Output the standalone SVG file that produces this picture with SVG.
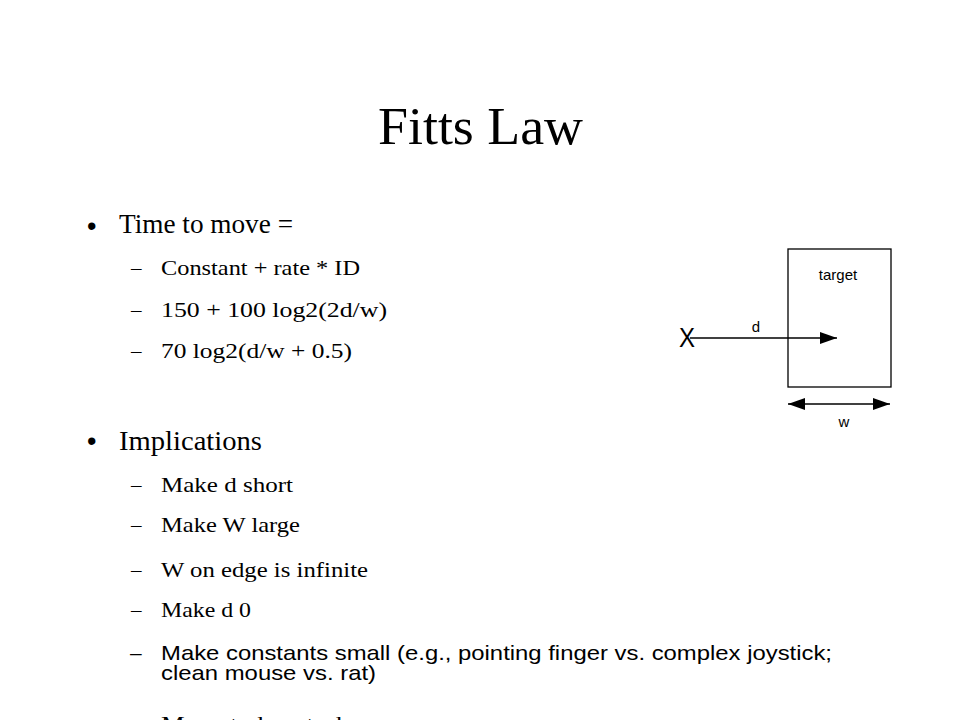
<svg xmlns="http://www.w3.org/2000/svg" width="960" height="720" viewBox="0 0 960 720">
  <style>
    .serif { font-family: "Liberation Serif", "Times New Roman", serif; fill: #000; }
    .sans { font-family: "Liberation Sans", Arial, sans-serif; fill: #000; }
    .title { font-size: 52px; }
    .l1 { font-size: 27px; }
    .l2 { font-size: 21px; }
    .l2s { font-size: 21px; }
    .lab { font-size: 15px; }
    .conn { stroke: #000; stroke-width: 1.3; fill: none; }
  </style>
  <defs>
    <marker id="ah" markerUnits="userSpaceOnUse" markerWidth="17" markerHeight="12" refX="17" refY="6" orient="auto-start-reverse" viewBox="0 0 17 12">
      <path d="M0,0 L17,6 L0,12 z" fill="#000"/>
    </marker>
  </defs>
  <rect width="960" height="720" fill="#fff"/>

  <g id="title">
    <text class="serif title" x="378" y="144" textLength="205" lengthAdjust="spacingAndGlyphs">Fitts Law</text>
  </g>

  <g id="bullets">
    <text class="sans l1" x="87" y="235">•</text>
    <text class="serif l1" x="119" y="233" textLength="174" lengthAdjust="spacingAndGlyphs">Time to move =</text>

    <text class="serif l2" x="131" y="275">–</text>
    <text class="serif l2" x="161" y="275" textLength="199" lengthAdjust="spacingAndGlyphs">Constant + rate * ID</text>
    <text class="serif l2" x="131" y="317">–</text>
    <text class="serif l2" x="161" y="317" textLength="226" lengthAdjust="spacingAndGlyphs">150 + 100 log2(2d/w)</text>
    <text class="serif l2" x="131" y="358">–</text>
    <text class="serif l2" x="161" y="358" textLength="191" lengthAdjust="spacingAndGlyphs">70 log2(d/w + 0.5)</text>

    <text class="sans l1" x="87" y="450">•</text>
    <text class="serif l1" x="119" y="450" textLength="143" lengthAdjust="spacingAndGlyphs">Implications</text>

    <text class="serif l2" x="131" y="492">–</text>
    <text class="serif l2" x="161" y="492" textLength="132" lengthAdjust="spacingAndGlyphs">Make d short</text>
    <text class="serif l2" x="131" y="532">–</text>
    <text class="serif l2" x="161" y="532" textLength="139" lengthAdjust="spacingAndGlyphs">Make W large</text>
    <text class="serif l2" x="131" y="577">–</text>
    <text class="serif l2" x="161" y="577" textLength="207" lengthAdjust="spacingAndGlyphs">W on edge is infinite</text>
    <text class="serif l2" x="131" y="617">–</text>
    <text class="serif l2" x="161" y="617" textLength="90" lengthAdjust="spacingAndGlyphs">Make d 0</text>

    <text class="sans l2s" x="130" y="660">–</text>
    <text class="sans l2s" x="161" y="660" textLength="671" lengthAdjust="spacingAndGlyphs">Make constants small (e.g., pointing finger vs. complex joystick;</text>
    <text class="sans l2s" x="161" y="680" textLength="215" lengthAdjust="spacingAndGlyphs">clean mouse vs. rat)</text>

    <text class="serif l2" x="161" y="731" textLength="200" lengthAdjust="spacingAndGlyphs">Move to keystroke</text>
  </g>

  <g id="target">
    <rect x="788" y="249" width="103" height="138" fill="none" stroke="#000" stroke-width="1.3"/>
    <text class="sans lab" x="838" y="280" text-anchor="middle">target</text>
  </g>

  <g id="start">
    <text class="sans" x="679" y="347" font-size="27" textLength="16" lengthAdjust="spacingAndGlyphs">X</text>
  </g>

  <g id="connectors">
    <line class="conn" x1="690" y1="338" x2="837" y2="338" marker-end="url(#ah)"/>
    <text class="sans lab" x="756" y="332" text-anchor="middle">d</text>
    <line class="conn" x1="788" y1="404" x2="890" y2="404" marker-start="url(#ah)" marker-end="url(#ah)"/>
    <text class="sans lab" x="844" y="427" text-anchor="middle">w</text>
  </g>
</svg>
